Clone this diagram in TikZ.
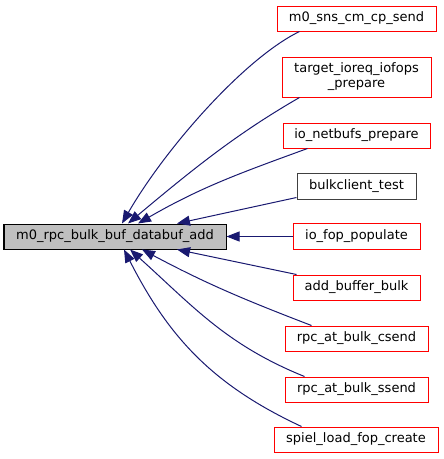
\documentclass[tikz,border=0pt]{standalone}
\usepackage{fontspec}
\setmainfont{DejaVu Sans}
\usepackage{xcolor}
\usetikzlibrary{arrows.meta}
\definecolor{edgeblue}{HTML}{191970}
\definecolor{callred}{HTML}{FF0000}
\definecolor{maingrey}{HTML}{BFBFBF}
\definecolor{darkgrey}{HTML}{404040}

\begin{document}
\begin{tikzpicture}[
  x=1pt,y=-1pt,font=\fontsize{13}{15}\selectfont,
  fn/.style={draw=callred,line width=1pt,fill=white,inner sep=0pt,minimum height=25pt,align=center},
  edge/.style={draw=edgeblue,line width=1pt,-{Triangle[length=13pt,width=10pt]}}
]
\useasboundingbox (0,0) rectangle (444,459);
\node[draw=black,fill=maingrey,line width=1pt,inner sep=0pt,minimum width=222pt,minimum height=25pt] (main) at (115,236.5) {m0\_rpc\_bulk\_buf\_databuf\_add};
\node[fn,minimum width=159pt] (sns) at (356.5,18.5) {m0\_sns\_cm\_cp\_send};
\node[fn,minimum width=149pt,minimum height=40pt] (ioreq) at (356.5,77) {target\_ioreq\_iofops\\\_prepare};
\node[fn,minimum width=147pt] (netbufs) at (356.5,135.5) {io\_netbufs\_prepare};
\node[fn,draw=darkgrey,minimum width=119pt,minimum height=26pt] (bulktest) at (356.5,186) {bulkclient\_test};
\node[fn,minimum width=127pt,minimum height=26pt] (populate) at (356.5,236.5) {io\_fop\_populate};
\node[fn,minimum width=127pt] (addbuf) at (356.5,287.5) {add\_buffer\_bulk};
\node[fn,minimum width=143pt] (csend) at (356.5,338.5) {rpc\_at\_bulk\_csend};
\node[fn,minimum width=143pt] (ssend) at (356.5,389.5) {rpc\_at\_bulk\_ssend};
\node[fn,minimum width=164pt] (spiel) at (356,439.5) {spiel\_load\_fop\_create};
% callers above
\draw[edge] ([xshift=23pt]sns.south west) .. controls +(206:62pt) and +(60:86pt) .. ([xshift=7pt]main.north);
\draw[edge] ([xshift=18pt]ioreq.south west) .. controls +(210:70pt) and +(40:90pt) .. ([xshift=13pt]main.north);
\draw[edge] ([xshift=25pt]netbufs.south west) to[out=200,in=30] ([xshift=23pt]main.north);
\draw[edge] ([yshift=2pt]bulktest.south west) -- ([xshift=62pt]main.north);
\draw[edge] (populate.west) -- (main.east);
% callers below
\draw[edge] ([xshift=4pt]addbuf.north west) -- ([xshift=62pt]main.south);
\draw[edge] ([xshift=27pt]csend.north west) to[out=159,in=332] ([xshift=27pt]main.south);
\draw[edge] ([xshift=20pt]ssend.north west) to[out=158,in=318] ([xshift=15pt]main.south);
\draw[edge] ([xshift=28pt]spiel.north west) to[out=155,in=297] ([xshift=9pt]main.south);
\end{tikzpicture}
\end{document}
